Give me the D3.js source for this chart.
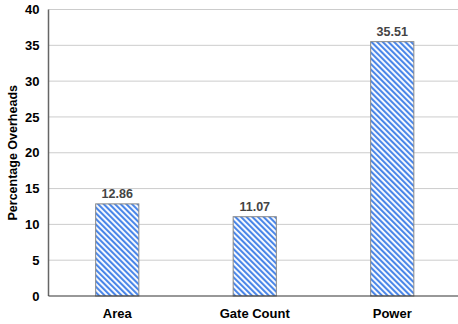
<!DOCTYPE html>
<html><head><meta charset="utf-8">
<script src="https://cdn.jsdelivr.net/npm/d3@7"></script>
<style>body{margin:0;background:#fff}svg{display:block}text{font-family:"Liberation Sans",Arial,sans-serif;font-weight:bold}</style>
</head><body><svg id="c" width="458" height="324"></svg>
<script>
const categories = ["Area", "Gate Count", "Power"];
const values = [12.86, 11.07, 35.51];
const yTicks = [0, 5, 10, 15, 20, 25, 30, 35, 40];
const yTitle = "Percentage Overheads";

const svg = d3.select("#c");
const mLeft = 48.5, mRight = 461, mTop = 9.5, mBottom = 296;
const x = d3.scaleBand().domain(categories).range([mLeft, mRight]).paddingInner(0.686).paddingOuter(0.343);
const y = d3.scaleLinear().domain([0, 40]).range([mBottom, mTop]);

const defs = svg.append("defs");
const pat = defs.append("pattern").attr("id", "stripes").attr("patternUnits", "userSpaceOnUse")
  .attr("width", 4).attr("height", 4).attr("patternTransform", "rotate(-45)");
pat.append("rect").attr("width", 4).attr("height", 4).attr("fill", "#fff");
pat.append("rect").attr("width", 2.1).attr("height", 4).attr("fill", "#4a86e8");

// gridlines
svg.append("g").selectAll("line").data(yTicks.filter(d => d > 0)).join("line")
  .attr("x1", mLeft).attr("x2", 458).attr("y1", d => y(d)).attr("y2", d => y(d))
  .attr("stroke", "#cccccc").attr("stroke-width", 1);

// y axis labels
const yAxis = d3.axisLeft(y).tickValues(yTicks).tickSize(0).tickPadding(9);
const gy = svg.append("g").attr("transform", `translate(${mLeft},0)`).call(yAxis);
gy.select(".domain").remove();
gy.selectAll("text").attr("font-size", 13).attr("fill", "#000").attr("font-weight", "bold")
  .attr("font-family", '"Liberation Sans",Arial,sans-serif');

// bars
svg.append("g").selectAll("rect").data(values).join("rect")
  .attr("x", (d, i) => x(categories[i])).attr("width", x.bandwidth())
  .attr("y", d => y(d)).attr("height", d => y(0) - y(d))
  .attr("fill", "url(#stripes)").attr("stroke", "#888").attr("stroke-width", 1);

// value labels
svg.append("g").selectAll("text").data(values).join("text")
  .attr("x", (d, i) => x(categories[i]) + x.bandwidth() / 2).attr("y", d => y(d) - 6)
  .attr("text-anchor", "middle").attr("font-size", 12.5).attr("fill", "#444")
  .text(d => d.toFixed(2));

// axes lines
svg.append("line").attr("x1", mLeft).attr("x2", mLeft).attr("y1", mTop).attr("y2", mBottom)
  .attr("stroke", "#666").attr("stroke-width", 1.5);
svg.append("line").attr("x1", mLeft).attr("x2", 458).attr("y1", mBottom).attr("y2", mBottom)
  .attr("stroke", "#333").attr("stroke-width", 1.2);

// x labels
const xAxis = d3.axisBottom(x).tickSize(0).tickPadding(13);
const gx = svg.append("g").attr("transform", `translate(0,${mBottom})`).call(xAxis);
gx.select(".domain").remove();
gx.selectAll("text").attr("font-size", 13).attr("fill", "#000").attr("font-weight", "bold")
  .attr("font-family", '"Liberation Sans",Arial,sans-serif');

// y title
svg.append("text").attr("transform", `translate(17,${(mTop + mBottom) / 2}) rotate(-90)`)
  .attr("text-anchor", "middle").attr("font-size", 12.5).attr("fill", "#000").text(yTitle);
</script></body></html>
